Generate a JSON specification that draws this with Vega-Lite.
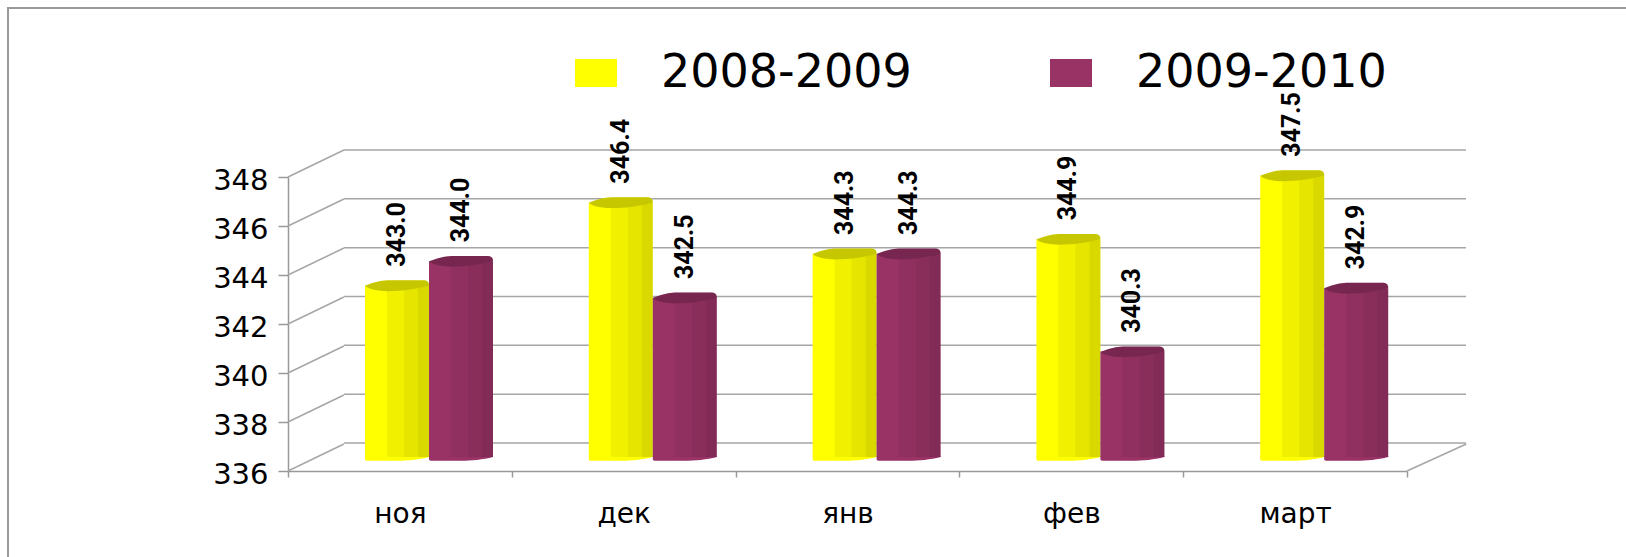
{
"$schema":"https://vega.github.io/schema/vega-lite/v6.json",
"width":1626,"height":557,"padding":0,"autosize":{"type":"none"},
"background":"white",
"config":{"view":{"stroke":null}},
"datasets":{
"main":[
{"month":"ноя","series":"2008-2009","value":343.0},
{"month":"ноя","series":"2009-2010","value":344.0},
{"month":"дек","series":"2008-2009","value":346.4},
{"month":"дек","series":"2009-2010","value":342.5},
{"month":"янв","series":"2008-2009","value":344.3},
{"month":"янв","series":"2009-2010","value":344.3},
{"month":"фев","series":"2008-2009","value":344.9},
{"month":"фев","series":"2009-2010","value":340.3},
{"month":"март","series":"2008-2009","value":347.5},
{"month":"март","series":"2009-2010","value":342.9}],
"ticks":[{"tick":336,"back":337.1},{"tick":338,"back":339.1},{"tick":340,"back":341.1},{"tick":342,"back":343.1},{"tick":344,"back":345.1},{"tick":346,"back":347.1},{"tick":348,"back":349.1}]
},
"resolve":{"scale":{"x":"independent","y":"independent"},"axis":{"x":"independent","y":"independent"}},
"layer":[
{"data":{"values":[{"a":0}]},
 "mark":{"type":"rect","fill":null,"stroke":"#9a9a9a","strokeWidth":2},
 "encoding":{
  "x":{"datum":0,"type":"quantitative","scale":{"domain":[0,1],"range":[8,1720]},"axis":null},
  "x2":{"datum":1},
  "y":{"datum":0,"type":"quantitative","scale":{"domain":[0,1],"range":[8,640]},"axis":null},
  "y2":{"datum":1}}},
{"data":{"name":"ticks"},
 "mark":{"type":"rule","color":"#a6a6a6","strokeWidth":1.5},
 "encoding":{
  "x":{"datum":0,"type":"quantitative","scale":{"domain":[0,5],"range":[344,1466]},"axis":null},
  "x2":{"datum":5},
  "y":{"field":"tick","type":"quantitative","scale":{"domain":[336,348],"range":[443,150]},"axis":null}}},
{"data":{"name":"ticks"},
 "mark":{"type":"rule","color":"#a6a6a6","strokeWidth":1.5},
 "encoding":{
  "x":{"datum":0,"type":"quantitative","scale":{"domain":[0,5],"range":[288,1407]},"axis":null},
  "x2":{"datum":0.25},
  "y":{"field":"tick","type":"quantitative","scale":{"domain":[336,348],"range":[471,177]},
   "axis":{"title":null,"orient":"left","offset":-288,"values":[336,338,340,342,344,346,348],"format":"d","tickSize":10,"tickColor":"#999999","tickWidth":1.5,"domainColor":"#999999","domainWidth":1.5,"grid":false,"labelFont":"DejaVu Sans","labelFontSize":29,"labelColor":"#000000","labelPadding":10,"labelOffset":3}},
  "y2":{"field":"back"}}},
{"data":{"values":[{"tick":336,"back":337.1}]},
 "mark":{"type":"rule","color":"#a6a6a6","strokeWidth":1.5},
 "encoding":{
  "x":{"datum":5,"type":"quantitative","scale":{"domain":[0,5],"range":[288,1407]},"axis":null},
  "x2":{"datum":5.265},
  "y":{"field":"tick","type":"quantitative","scale":{"domain":[336,348],"range":[471,177]},"axis":null},
  "y2":{"field":"back"}}},
{"data":{"name":"main"},
 "mark":{"type":"point","opacity":0},
 "encoding":{
  "x":{"field":"month","type":"nominal","scale":{"type":"band","domain":["ноя","дек","янв","фев","март"],"range":[288,1407],"padding":0},
   "axis":{"title":null,"orient":"bottom","offset":-86,"tickBand":"extent","tickSize":6,"tickColor":"#999999","tickWidth":1.5,"domainColor":"#999999","domainWidth":1.5,"grid":false,"labelAngle":0,"labelFont":"DejaVu Sans","labelFontSize":28,"labelColor":"#000000","labelPadding":23}},
  "y":{"field":"value","type":"quantitative","scale":{"domain":[336,348],"range":[471,177]},"axis":null}}},
{"data":{"name":"main"},
 "resolve":{"scale":{"xOffset":"independent"}},
 "encoding":{
  "x":{"field":"month","type":"nominal","scale":{"type":"band","domain":["ноя","дек","янв","фев","март"],"range":[317,1436],"padding":0},"axis":null},
  "xOffset":{"field":"series","type":"nominal","scale":{"type":"band","domain":["2008-2009","2009-2010"],"range":[48,176],"padding":0}},
  "y":{"field":"value","type":"quantitative","scale":{"domain":[336,348],"range":[457,163.5]},"axis":null}},
 "layer":[
  {"mark":{"type":"bar","width":64},
   "encoding":{"y2":{"datum":336},
    "color":{"field":"series","type":"nominal","scale":{"domain":["2008-2009","2009-2010"],"range":["#ffff00","#993366"]},
     "legend":{"title":null,"orient":"none","legendX":573,"legendY":50,"direction":"horizontal","symbolType":"M-1,-0.67 L1,-0.67 L1,0.67 L-1,0.67 Z","symbolSize":1764,"symbolStrokeWidth":0,"symbolOpacity":1,"labelFont":"DejaVu Sans","labelFontSize":46,"labelColor":"#000000","labelOffset":42,"columnPadding":136,"labelLimit":500}}}},
  {"mark":{"type":"point","filled":true,"opacity":1,"size":4096,"shape":"M-1,-0.02 L1,-0.02 L1,0 C0.7,0.08 0.3,0.12 0,0.12 L-0.9,0.12 C-0.95,0.12 -1,0.1 -1,0.08 Z"},
   "encoding":{"y":{"datum":336},"color":{"field":"series","type":"nominal"}}},
  {"mark":{"type":"bar","width":17,"color":"#000000","opacity":0.06},
   "encoding":{"y2":{"datum":336},"xOffset":{"field":"series","type":"nominal","scale":{"type":"band","domain":["2008-2009","2009-2010"],"range":[46.5,174.5],"padding":0}}}},
  {"mark":{"type":"bar","width":14,"color":"#000000","opacity":0.1},
   "encoding":{"y2":{"datum":336},"xOffset":{"field":"series","type":"nominal","scale":{"type":"band","domain":["2008-2009","2009-2010"],"range":[62,190],"padding":0}}}},
  {"mark":{"type":"bar","width":11,"color":"#000000","opacity":0.15},
   "encoding":{"y2":{"datum":336},"xOffset":{"field":"series","type":"nominal","scale":{"type":"band","domain":["2008-2009","2009-2010"],"range":[74.5,202.5],"padding":0}}}},
  {"mark":{"type":"point","filled":true,"opacity":1,"size":4096,"shape":"M-1,0 C-0.8,-0.08 -0.5,-0.17 -0.3,-0.17 L0.8,-0.17 C0.95,-0.17 1,-0.12 1,0 C0.7,0.08 0.2,0.17 -0.3,0.17 C-0.6,0.17 -0.9,0.1 -1,0 Z"},
   "encoding":{"color":{"field":"series","type":"nominal"}}},
  {"mark":{"type":"point","filled":true,"color":"#000000","opacity":0.22,"size":4096,"shape":"M-1,0 C-0.8,-0.08 -0.5,-0.17 -0.3,-0.17 L0.8,-0.17 C0.95,-0.17 1,-0.12 1,0 C0.7,0.08 0.2,0.17 -0.3,0.17 C-0.6,0.17 -0.9,0.1 -1,0 Z"}},
  {"mark":{"type":"text","angle":270,"align":"left","baseline":"middle","dx":19,"font":"Roboto","fontSize":25,"fontWeight":"bold","color":"#000000"},
   "encoding":{"text":{"field":"value","type":"quantitative","format":".1f"}}}
 ]}
]
}
